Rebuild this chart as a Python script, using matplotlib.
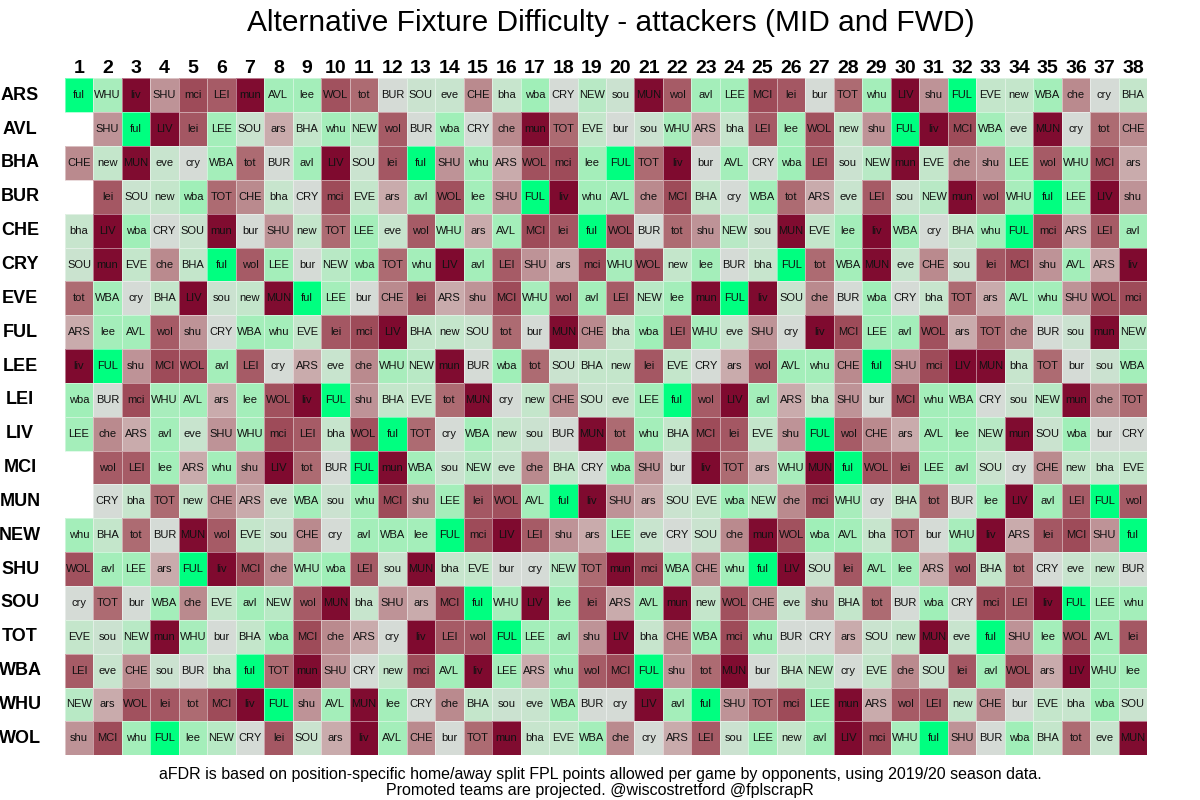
import numpy as np
import matplotlib
matplotlib.use("Agg")
import matplotlib.pyplot as plt
from matplotlib.colors import LinearSegmentedColormap

teams = ["ARS", "AVL", "BHA", "BUR", "CHE", "CRY", "EVE", "FUL", "LEE", "LEI",
         "LIV", "MCI", "MUN", "NEW", "SHU", "SOU", "TOT", "WBA", "WHU", "WOL"]
gameweeks = list(range(1, 39))

fixtures = {
    "ARS": "ful WHU liv SHU mci LEI mun AVL lee WOL tot BUR SOU eve CHE bha wba CRY NEW sou MUN wol avl LEE MCI lei bur TOT whu LIV shu FUL EVE new WBA che cry BHA",
    "AVL": "- SHU ful LIV lei LEE SOU ars BHA whu NEW wol BUR wba CRY che mun TOT EVE bur sou WHU ARS bha LEI lee WOL new shu FUL liv MCI WBA eve MUN cry tot CHE",
    "BHA": "CHE new MUN eve cry WBA tot BUR avl LIV SOU lei ful SHU whu ARS WOL mci lee FUL TOT liv bur AVL CRY wba LEI sou NEW mun EVE che shu LEE wol WHU MCI ars",
    "BUR": "- lei SOU new wba TOT CHE bha CRY mci EVE ars avl WOL lee SHU FUL liv whu AVL che MCI BHA cry WBA tot ARS eve LEI sou NEW mun wol WHU ful LEE LIV shu",
    "CHE": "bha LIV wba CRY SOU mun bur SHU new TOT LEE eve wol WHU ars AVL MCI lei ful WOL BUR tot shu NEW sou MUN EVE lee liv WBA cry BHA whu FUL mci ARS LEI avl",
    "CRY": "SOU mun EVE che BHA ful wol LEE bur NEW wba TOT whu LIV avl LEI SHU ars mci WHU WOL new lee BUR bha FUL tot WBA MUN eve CHE sou lei MCI shu AVL ARS liv",
    "EVE": "tot WBA cry BHA LIV sou new MUN ful LEE bur CHE lei ARS shu MCI WHU wol avl LEI NEW lee mun FUL liv SOU che BUR wba CRY bha TOT ars AVL whu SHU WOL mci",
    "FUL": "ARS lee AVL wol shu CRY WBA whu EVE lei mci LIV BHA new SOU tot bur MUN CHE bha wba LEI WHU eve SHU cry liv MCI LEE avl WOL ars TOT che BUR sou mun NEW",
    "LEE": "liv FUL shu MCI WOL avl LEI cry ARS eve che WHU NEW mun BUR wba tot SOU BHA new lei EVE CRY ars wol AVL whu CHE ful SHU mci LIV MUN bha TOT bur sou WBA",
    "LEI": "wba BUR mci WHU AVL ars lee WOL liv FUL shu BHA EVE tot MUN cry new CHE SOU eve LEE ful wol LIV avl ARS bha SHU bur MCI whu WBA CRY sou NEW mun che TOT",
    "LIV": "LEE che ARS avl eve SHU WHU mci LEI bha WOL ful TOT cry WBA new sou BUR MUN tot whu BHA MCI lei EVE shu FUL wol CHE ars AVL lee NEW mun SOU wba bur CRY",
    "MCI": "- wol LEI lee ARS whu shu LIV tot BUR FUL mun WBA sou NEW eve che BHA CRY wba SHU bur liv TOT ars WHU MUN ful WOL lei LEE avl SOU cry CHE new bha EVE",
    "MUN": "- CRY bha TOT new CHE ARS eve WBA sou whu MCI shu LEE lei WOL AVL ful liv SHU ars SOU EVE wba NEW che mci WHU cry BHA tot BUR lee LIV avl LEI FUL wol",
    "NEW": "whu BHA tot BUR MUN wol EVE sou CHE cry avl WBA lee FUL mci LIV LEI shu ars LEE eve CRY SOU che mun WOL wba AVL bha TOT bur WHU liv ARS lei MCI SHU ful",
    "SHU": "WOL avl LEE ars FUL liv MCI che WHU wba LEI sou MUN bha EVE bur cry NEW TOT mun mci WBA CHE whu ful LIV SOU lei AVL lee ARS wol BHA tot CRY eve new BUR",
    "SOU": "cry TOT bur WBA che EVE avl NEW wol MUN bha SHU ars MCI ful WHU LIV lee lei ARS AVL mun new WOL CHE eve shu BHA tot BUR wba CRY mci LEI liv FUL LEE whu",
    "TOT": "EVE sou NEW mun WHU bur BHA wba MCI che ARS cry liv LEI wol FUL LEE avl shu LIV bha CHE WBA mci whu BUR CRY ars SOU new MUN eve ful SHU lee WOL AVL lei",
    "WBA": "LEI eve CHE sou BUR bha ful TOT mun SHU CRY new mci AVL liv LEE ARS whu wol MCI FUL shu tot MUN bur BHA NEW cry EVE che SOU lei avl WOL ars LIV WHU lee",
    "WHU": "NEW ars WOL lei tot MCI liv FUL shu AVL MUN lee CRY che BHA sou eve WBA BUR cry LIV avl ful SHU TOT mci LEE mun ARS wol LEI new CHE bur EVE bha wba SOU",
    "WOL": "shu MCI whu FUL lee NEW CRY lei SOU ars liv AVL CHE bur TOT mun bha EVE WBA che cry ARS LEI sou LEE new avl LIV mci WHU ful SHU BUR wba BHA tot eve MUN",
}

# Estimated aFDR-like ease score per opponent (lower = harder, higher = easier)
opponent_score = {
    "liv": 0.0, "LIV": 0.0, "mun": 0.05, "MUN": 0.05,
    "mci": 1.0, "MCI": 1.0, "wol": 1.5, "WOL": 1.2,
    "lei": 1.4, "LEI": 1.5, "tot": 2.0, "TOT": 2.0,
    "che": 3.0, "CHE": 3.0, "shu": 3.3, "SHU": 3.3,
    "ars": 4.0, "ARS": 4.0,
    "bur": 5.0, "BUR": 5.0, "cry": 5.0, "CRY": 5.0,
    "sou": 5.6, "SOU": 5.7, "eve": 5.8, "EVE": 6.0,
    "bha": 5.9, "BHA": 6.0, "new": 6.0, "NEW": 6.3,
    "whu": 6.8, "WHU": 6.7, "avl": 6.8, "AVL": 6.8,
    "lee": 6.8, "LEE": 6.8, "wba": 6.9, "WBA": 6.8,
    "ful": 8.0, "FUL": 8.0,
}

title = "Alternative Fixture Difficulty - attackers (MID and FWD)"
footer1 = "aFDR is based on position-specific home/away split FPL points allowed per game by opponents, using 2019/20 season data."
footer2 = "Promoted teams are projected. @wiscostretford @fplscrapR"

anchors = ["#7f0a2f", "#9e4b59", "#ad6b72", "#ba8a8e", "#c9aaab",
           "#d5dbd6", "#c5e6cc", "#9cf0b6", "#00ff80"]
cmap = LinearSegmentedColormap.from_list("afdr", anchors)

nrow, ncol = len(teams), len(gameweeks)
labels = [fixtures[t].split() for t in teams]
vals = np.full((nrow, ncol), np.nan)
for i in range(nrow):
    for j in range(ncol):
        lab = labels[i][j]
        if lab != "-":
            vals[i, j] = opponent_score[lab]
vals = np.ma.masked_invalid(vals)

plt.rcParams['font.family'] = ['Liberation Sans', 'DejaVu Sans']
fig = plt.figure(figsize=(12, 8), dpi=100)
ax = fig.add_axes([0.054, 0.056, 0.902, 0.846])
xe = np.arange(0.5, ncol + 1.5)
ye = np.arange(0.5, nrow + 1.5)
ax.pcolormesh(xe, ye, vals, cmap=cmap, vmin=0, vmax=8,
              edgecolors=(1, 1, 1, 0.45), linewidth=0.7)
ax.set_xlim(0.5, ncol + 0.5)
ax.set_ylim(nrow + 0.5, 0.5)
ax.axis("off")

for i in range(nrow):
    for j in range(ncol):
        lab = labels[i][j]
        if lab != "-":
            ax.text(gameweeks[j], i + 1, lab, ha="center", va="center",
                    fontsize=8, color="#111111")
    ax.text(-1.07, i + 1, teams[i], ha="center", va="center",
            fontsize=13, fontweight="bold", clip_on=False)

for j, gw in enumerate(gameweeks):
    ax.text(gw, 0.5 - 0.17, str(gw), ha="center", va="baseline",
            fontsize=14, fontweight="bold", clip_on=False)

fig.text(0.509, 1 - 23 / 800, title, ha="center", va="center", fontsize=21.5)
fig.text(0.5, 1 - 775 / 800, footer1, ha="center", va="center", fontsize=11.5)
fig.text(0.5, 1 - 791 / 800, footer2, ha="center", va="center", fontsize=11.5)

fig.savefig("out.png", dpi=100, facecolor="white")
